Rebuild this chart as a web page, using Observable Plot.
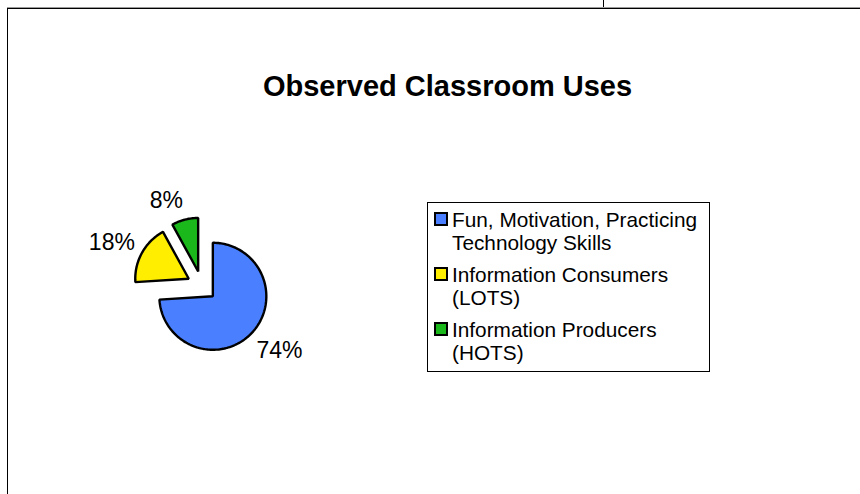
<!DOCTYPE html>
<html>
<head>
<meta charset="utf-8">
<script src="https://cdn.jsdelivr.net/npm/d3@7"></script>
<script src="https://cdn.jsdelivr.net/npm/@observablehq/plot@0.6"></script>
<style>
  html, body { margin: 0; padding: 0; background: #fff; }
  #wrap { position: relative; width: 860px; height: 494px; overflow: hidden; background: #fff;
          font-family: "Liberation Sans", Arial, sans-serif; color: #000; }
  #wrap svg { position: absolute; left: 0; top: 0; }
  .gridline { position: absolute; }
  #title { position: absolute; left: 0; top: 71.5px; width: 895px; text-align: center;
           font-size: 29px; line-height: 29px; font-weight: bold; white-space: nowrap; }
  #legend { position: absolute; left: 427px; top: 202px; width: 283px; height: 170px; box-sizing: border-box;
            border: 1px solid #000; padding: 5px 0 0 6px; background: #fff; }
  .entry { display: flex; align-items: flex-start; height: 46px; margin-bottom: 9px; }
  .sw { width: 14px; height: 14px; box-sizing: border-box; border: 2px solid #000; margin-top: 4px; flex: none; }
  .lt { margin-left: 4px; width: 256px; font-size: 20.8px; line-height: 23px; }
</style>
</head>
<body>
<div id="wrap"></div>
<script>
// ---- data ----
const categories = [
  "Fun, Motivation, Practicing Technology Skills",
  "Information Consumers (LOTS)",
  "Information Producers (HOTS)"
];
const shares = [74, 18, 8];
const pctLabels = ["74%", "18%", "8%"];
const colors = ["#4A80FF", "#FFEE00", "#1BB81B"];
const titleText = "Observed Classroom Uses";

// ---- layout ----
const W = 860, H = 494;
const R = 53.5;              // pie radius in px
const cx = 201.4, cy = 285.5; // pie centre in px
const explode = 15 / R;      // exploded offset (in radius units)
const labelGap = 82;         // px from centre to label anchor
const labelFont = 23;
const labelNudge = [[1, -3], [2, 0], [-11, -2]]; // px adjustments (right, up) per label

const total = d3.sum(shares);
let cum = 0;
const slices = shares.map((v, i) => {
  const a0 = cum / total * 2 * Math.PI;
  cum += v;
  const a1 = cum / total * 2 * Math.PI;
  return {i, cat: categories[i], label: pctLabels[i], a0, a1, mid: (a0 + a1) / 2};
});

// slice outlines (angle measured clockwise from 12 o'clock, y up)
const outline = slices.flatMap(s => {
  const ox = explode * Math.sin(s.mid), oy = explode * Math.cos(s.mid);
  const n = Math.max(2, Math.ceil((s.a1 - s.a0) / (Math.PI / 120)));
  const pts = [{cat: s.cat, x: ox, y: oy}];
  for (let k = 0; k <= n; k++) {
    const a = s.a0 + (s.a1 - s.a0) * k / n;
    pts.push({cat: s.cat, x: ox + Math.sin(a), y: oy + Math.cos(a)});
  }
  return pts;
});

const labelRows = slices.map(s => {
  const ux = Math.sin(s.mid), uy = Math.cos(s.mid);
  const w = [...s.label].reduce((a, c) => a + (c === "%" ? 0.889 : 0.556), 0) * labelFont;
  const h = 17;
  const [nx, ny] = labelNudge[s.i];
  return {label: s.label,
          x: (labelGap * ux + ux * w / 2 + nx) / R,
          y: (labelGap * uy + uy * h / 2 + ny) / R};
});

const plot = Plot.plot({
  width: W, height: H, margin: 0,
  x: {domain: [-cx / R, (W - cx) / R], axis: null},
  y: {domain: [-(H - cy) / R, cy / R], axis: null},
  color: {domain: categories, range: colors},
  style: {background: "transparent", overflow: "visible"},
  marks: [
    Plot.line(outline, {x: "x", y: "y", z: "cat", fill: "cat", stroke: "#000", strokeWidth: 2.4,
      curve: "linear-closed", strokeLinejoin: "miter"}),
    Plot.text(labelRows, {x: "x", y: "y", text: "label", fontSize: labelFont,
      fontFamily: "Liberation Sans, Arial, sans-serif", fill: "#000", lineAnchor: "middle", textAnchor: "middle"})
  ]
});

const wrap = document.getElementById("wrap");
wrap.appendChild(plot);

// spreadsheet cell borders around the chart object
function line(l, t, w, h, c) {
  const d = document.createElement("div");
  d.className = "gridline";
  Object.assign(d.style, {left: l + "px", top: t + "px", width: w + "px", height: h + "px", background: c});
  wrap.appendChild(d);
}
line(7, 7, 853, 1, "#9a9a9a");
line(7, 8, 853, 1, "#000");
line(7, 8, 1, 486, "#000");
line(603, 0, 1, 7, "#000");

// title
const title = document.createElement("div");
title.id = "title";
title.textContent = titleText;
wrap.appendChild(title);

// legend using the plot's colour scale
const cs = plot.scale("color");
const legend = document.createElement("div");
legend.id = "legend";
cs.domain.forEach((cat, i) => {
  const e = document.createElement("div");
  e.className = "entry";
  const sw = document.createElement("div");
  sw.className = "sw";
  sw.style.background = cs.range[i];
  const t = document.createElement("div");
  t.className = "lt";
  t.textContent = cat;
  e.appendChild(sw); e.appendChild(t);
  legend.appendChild(e);
});
wrap.appendChild(legend);
</script>
</body>
</html>
